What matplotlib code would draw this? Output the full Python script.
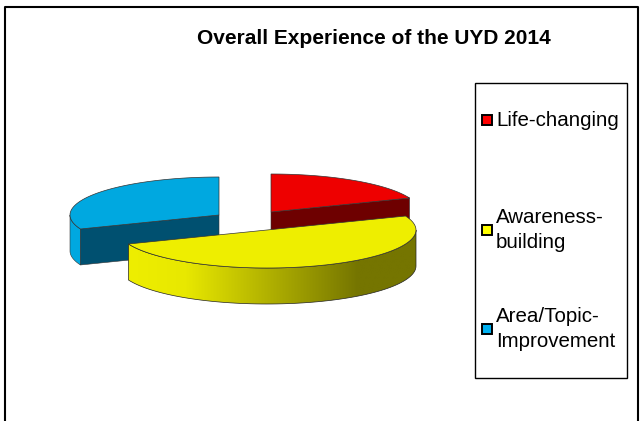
# -*- coding: utf-8 -*-
"""Overall Experience of the UYD 2014 - exploded 3D style pie chart."""
import numpy as np
import matplotlib
matplotlib.use("Agg")
import matplotlib.pyplot as plt
from matplotlib.colors import LinearSegmentedColormap
from matplotlib.patches import Polygon, Rectangle

# --- data ---
labels = ["Life-changing", "Awareness-\nbuilding", "Area/Topic-\nImprovement"]
values = [19, 50, 31]

# --- style ---
TOPS = ["#EE0000", "#EEEE00", "#00A8E0"]
CUTS = ["#6E0000", "#6E6E00", "#005070"]
SWATCH = ["#FF0000", "#FFFF00", "#00B0F0"]
CENTERS = [(271, 212), (267, 230), (219, 215)]   # slices are exploded
RX, RY, DEPTH = 149, 38, 36
LEGEND_Y = [120, 230, 329]

plt.rcParams["font.family"] = ["Liberation Sans", "DejaVu Sans"]

fig = plt.figure(figsize=(6.43, 4.21), dpi=100)
ax = fig.add_axes([0, 0, 1, 1])


def rim(center, a0, a1, dy=0):
    t = np.radians(np.linspace(a0, a1, 80))
    return np.column_stack([center[0] + RX * np.cos(t),
                            center[1] - RY * np.sin(t) + dy])


def top_face(i, z):
    c = CENTERS[i]
    pts = np.vstack([c, rim(c, starts[i], ends[i])])
    ax.add_patch(Polygon(pts, fc=TOPS[i], ec="#333333", lw=0.5, zorder=z))


def cut_face(i, angle, z):
    c = np.array(CENTERS[i], dtype=float)
    p = rim(c, angle, angle)[0]
    face = [c, p, p + [0, DEPTH], c + [0, DEPTH]]
    ax.add_patch(Polygon(face, fc=CUTS[i], ec="#333333", lw=0.4, zorder=z))


# slice angles, clockwise from 12 o'clock
sweeps = np.array(values) / sum(values) * 360
starts = 90 - np.r_[0, np.cumsum(sweeps)[:-1]]
ends = starts - sweeps

# blue slice, at the back on the left
blue_a = starts[2] + 360
wall = np.vstack([rim(CENTERS[2], 180, blue_a), rim(CENTERS[2], blue_a, 180, DEPTH)])
ax.add_patch(Polygon(wall, fc=TOPS[2], ec="#333333", lw=0.4, zorder=2))
cut_face(2, blue_a, 2.1)
top_face(2, 2.2)

# red slice, only the cut face shows under it
cut_face(0, ends[0], 3)
top_face(0, 3.1)

# yellow slice in front, its wall runs dark to the right
wall = np.vstack([rim(CENTERS[1], 0, ends[1]), rim(CENTERS[1], ends[1], 0, DEPTH)])
patch = Polygon(wall, fc="none", ec="#222222", lw=0.5, zorder=4.1)
ax.add_patch(patch)
cmap = LinearSegmentedColormap.from_list(
    "wall", [(0, "#EEEE00"), (0.2, "#E8E800"), (0.8, "#757500"), (1, "#757500")])
im = ax.imshow(np.linspace(0, 1, 256)[None, :], cmap=cmap, aspect="auto",
               extent=(wall[:, 0].min(), wall[:, 0].max(), 320, 200), zorder=4)
im.set_clip_path(patch)
top_face(1, 4.2)

# outer frame, bottom edge is cut off in the picture
ax.plot([4.5, 4.5, 638, 638], [421, 7, 7, 421], color="black", lw=1.5, zorder=1)

ax.text(373.5, 38, "Overall Experience of the UYD 2014", ha="center", va="center",
        fontsize=15, fontweight="bold", color="black")

# legend
ax.add_patch(Rectangle((475, 83), 152, 295, fc="white", ec="black", lw=1, zorder=5))
for lab, col, y in zip(labels, SWATCH, LEGEND_Y):
    ax.add_patch(Rectangle((482, y - 5), 10, 10, fc=col, ec="black", lw=1.4, zorder=6))
    ax.text(496, y, lab, ha="left", va="center", fontsize=14.8, color="black",
            linespacing=1.4, zorder=6)

ax.set_xlim(0, 643)
ax.set_ylim(421, 0)
ax.axis("off")

fig.savefig("out.png", dpi=100)
